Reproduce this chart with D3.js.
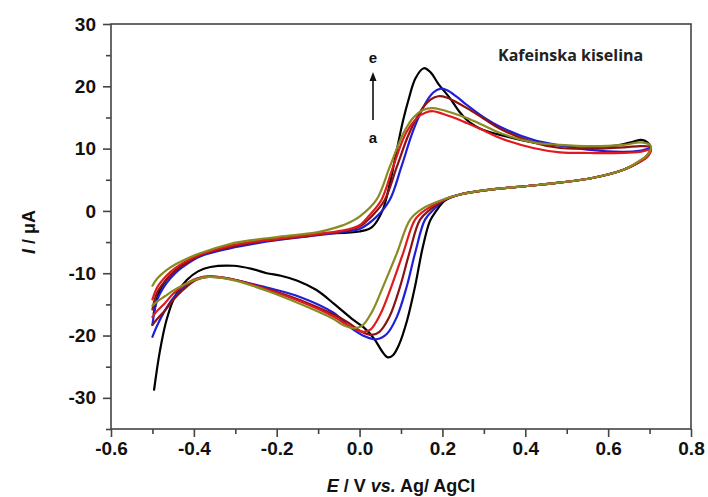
<!DOCTYPE html>
<html><head><meta charset="utf-8">
<script src="https://cdn.jsdelivr.net/npm/d3@7"></script>
<style>
html,body{margin:0;padding:0;background:#fff;}
svg{display:block;}
</style>
</head><body>
<svg id="chart" width="708" height="497"></svg>
<script>
// ---- data: [E (V), I (µA)] in scan order (anodic sweep then cathodic sweep) ----
const curveBlack = [
[-0.497,-16.5],[-0.485,-13.2],[-0.466,-11.0],[-0.445,-9.6],[-0.425,-8.6],[-0.385,-7.1],[-0.313,-5.7],[-0.25,-4.9],[-0.2,-4.4],[-0.1,-3.7],[0.0,-3.3],[0.03,-2.6],[0.055,0.0],[0.075,5.0],[0.09,9.8],[0.105,14.5],[0.118,17.8],[0.135,21.3],[0.155,22.9],[0.172,22.2],[0.19,20.4],[0.218,18.1],[0.24,16.0],[0.259,14.6],[0.28,13.6],[0.299,13.0],[0.339,12.2],[0.419,11.0],[0.484,10.5],[0.556,10.3],[0.62,10.5],[0.66,11.1],[0.68,11.4],[0.695,11.0],[0.703,10.2],
[0.695,9.0],[0.677,8.0],[0.637,6.6],[0.556,5.2],[0.435,4.2],[0.30,3.3],[0.24,2.6],[0.205,1.6],[0.185,0.0],[0.17,-1.6],[0.152,-6.0],[0.134,-12.1],[0.115,-17.5],[0.095,-21.5],[0.08,-23.2],[0.068,-23.5],[0.055,-22.6],[0.035,-20.5],[0.01,-18.7],[-0.015,-17.5],[-0.06,-15.0],[-0.104,-12.7],[-0.15,-11.2],[-0.19,-10.4],[-0.224,-10.0],[-0.26,-9.3],[-0.305,-8.8],[-0.36,-9.0],[-0.39,-9.7],[-0.417,-11.1],[-0.445,-13.6],[-0.466,-17.5],[-0.482,-22.5],[-0.496,-28.7]
];
const curveBlue = [
[-0.50,-18.3],[-0.488,-14.2],[-0.466,-11.6],[-0.445,-10.0],[-0.425,-8.9],[-0.385,-7.3],[-0.313,-6.0],[-0.25,-5.2],[-0.2,-4.7],[-0.1,-3.9],[-0.03,-3.3],[0.0,-2.9],[0.04,-1.0],[0.073,1.8],[0.101,7.1],[0.13,13.0],[0.16,17.4],[0.178,19.0],[0.194,19.6],[0.21,19.4],[0.235,18.3],[0.259,17.0],[0.30,15.0],[0.339,13.5],[0.419,11.4],[0.484,10.5],[0.556,9.8],[0.637,9.5],[0.68,9.7],[0.703,10.0],
[0.695,8.8],[0.677,7.9],[0.637,6.6],[0.556,5.2],[0.435,4.2],[0.30,3.3],[0.24,2.6],[0.205,1.8],[0.18,0.3],[0.158,-1.4],[0.135,-6.5],[0.114,-12.1],[0.09,-17.0],[0.065,-19.8],[0.04,-20.6],[0.015,-20.2],[-0.02,-18.8],[-0.064,-16.3],[-0.144,-13.8],[-0.224,-12.3],[-0.305,-11.0],[-0.36,-10.5],[-0.39,-10.8],[-0.425,-12.3],[-0.45,-14.0],[-0.47,-16.0],[-0.488,-18.3],[-0.50,-20.2]
];
const curveMaroon = [
[-0.50,-15.8],[-0.488,-13.0],[-0.466,-11.0],[-0.445,-9.6],[-0.425,-8.7],[-0.385,-7.1],[-0.313,-5.8],[-0.25,-5.0],[-0.2,-4.6],[-0.1,-3.8],[-0.03,-3.1],[0.0,-2.5],[0.03,-0.8],[0.061,1.8],[0.09,7.1],[0.12,12.5],[0.15,16.3],[0.172,17.9],[0.19,18.4],[0.21,18.2],[0.235,17.4],[0.259,16.5],[0.30,14.8],[0.339,13.2],[0.419,11.0],[0.484,10.1],[0.556,10.0],[0.637,10.2],[0.68,10.4],[0.703,10.2],
[0.695,8.9],[0.677,8.0],[0.637,6.6],[0.556,5.2],[0.435,4.2],[0.30,3.3],[0.24,2.6],[0.205,1.8],[0.17,0.2],[0.146,-1.4],[0.12,-6.8],[0.098,-12.1],[0.072,-17.0],[0.048,-19.4],[0.029,-19.9],[0.005,-19.4],[-0.03,-17.8],[-0.064,-16.6],[-0.144,-14.3],[-0.224,-12.5],[-0.305,-11.0],[-0.365,-10.6],[-0.395,-11.1],[-0.425,-12.6],[-0.45,-14.3],[-0.47,-16.0],[-0.488,-17.3],[-0.50,-18.3]
];
const curveRed = [
[-0.50,-14.2],[-0.488,-12.2],[-0.466,-10.4],[-0.445,-9.2],[-0.425,-8.3],[-0.385,-7.0],[-0.313,-5.6],[-0.25,-4.9],[-0.2,-4.5],[-0.1,-3.7],[-0.03,-3.0],[0.0,-2.3],[0.025,-0.6],[0.053,1.8],[0.081,7.1],[0.112,12.5],[0.14,15.0],[0.16,15.8],[0.178,16.0],[0.20,15.6],[0.23,14.9],[0.259,14.1],[0.30,12.9],[0.339,11.7],[0.419,10.1],[0.484,9.4],[0.556,9.3],[0.637,9.3],[0.68,9.5],[0.703,9.8],
[0.695,8.7],[0.677,7.9],[0.637,6.6],[0.556,5.2],[0.435,4.2],[0.30,3.3],[0.24,2.6],[0.205,1.8],[0.16,0.2],[0.134,-1.4],[0.105,-6.8],[0.077,-12.1],[0.05,-16.6],[0.027,-19.0],[0.009,-19.4],[-0.01,-19.0],[-0.04,-17.9],[-0.064,-16.9],[-0.144,-14.5],[-0.224,-12.6],[-0.305,-11.0],[-0.365,-10.5],[-0.395,-10.9],[-0.425,-12.0],[-0.45,-13.3],[-0.47,-14.8],[-0.488,-16.0],[-0.50,-17.0]
];
const curveOlive = [
[-0.50,-12.0],[-0.488,-10.8],[-0.466,-9.5],[-0.445,-8.6],[-0.425,-7.9],[-0.385,-6.8],[-0.313,-5.3],[-0.25,-4.6],[-0.2,-4.2],[-0.1,-3.4],[-0.064,-2.8],[-0.03,-2.0],[0.0,-0.9],[0.041,1.8],[0.073,7.1],[0.106,12.5],[0.13,15.0],[0.153,16.2],[0.175,16.5],[0.20,16.2],[0.23,15.6],[0.259,14.9],[0.30,13.7],[0.339,12.5],[0.419,11.0],[0.484,10.6],[0.556,10.4],[0.637,10.6],[0.68,11.0],[0.703,10.4],
[0.695,9.0],[0.677,8.1],[0.637,6.6],[0.556,5.2],[0.435,4.2],[0.30,3.3],[0.24,2.6],[0.205,1.9],[0.15,0.3],[0.122,-1.4],[0.09,-6.8],[0.057,-12.1],[0.03,-16.2],[0.005,-18.5],[-0.015,-18.8],[-0.04,-18.3],[-0.064,-17.3],[-0.144,-14.9],[-0.224,-12.8],[-0.305,-11.1],[-0.365,-10.6],[-0.395,-11.0],[-0.425,-11.9],[-0.45,-12.8],[-0.47,-13.7],[-0.488,-14.5],[-0.50,-15.2]
];
const seriesNames = ["black","blue","maroon","red","olive"];
const seriesColors = ["#000000","#1f1fd8","#8e1212","#e2191c","#8a8a22"];
const seriesData = [curveBlack, curveBlue, curveMaroon, curveRed, curveOlive];

const xTicks = [-0.6,-0.4,-0.2,0.0,0.2,0.4,0.6,0.8];
const xMinor = [-0.5,-0.3,-0.1,0.1,0.3,0.5,0.7];
const yTicks = [-30,-20,-10,0,10,20,30];
const yMinor = [-35,-25,-15,-5,5,15,25];
const titleText = "Kafeinska kiselina";
const arrowLabels = ["e","a"];

// ---- layout ----
const L = 111, R = 691, T = 24, B = 429;
const svg = d3.select("#chart");
const x = d3.scaleLinear().domain([-0.6,0.8]).range([L,R]);
const y = d3.scaleLinear().domain([-35,30]).range([B,T]);

const tickFont = "'Liberation Sans', Arial, sans-serif";
const axisColor = "#444";
const fmtX = d => d3.format(".1f")(d).replace("\u2212","-");
const fmtY = d => d3.format("d")(d).replace("\u2212","-");

// minor ticks
const gxm = svg.append("g").attr("transform",`translate(0,${B})`)
  .call(d3.axisBottom(x).tickValues(xMinor).tickSize(5).tickFormat("").tickSizeOuter(0));
const gym = svg.append("g").attr("transform",`translate(${L},0)`)
  .call(d3.axisLeft(y).tickValues(yMinor).tickSize(5).tickFormat("").tickSizeOuter(0));
// major ticks
const gx = svg.append("g").attr("transform",`translate(0,${B})`)
  .call(d3.axisBottom(x).tickValues(xTicks).tickSize(8).tickPadding(5).tickSizeOuter(0)
    .tickFormat(fmtX));
const gy = svg.append("g").attr("transform",`translate(${L},0)`)
  .call(d3.axisLeft(y).tickValues(yTicks).tickSize(8).tickPadding(7).tickSizeOuter(0)
    .tickFormat(fmtY));
[gxm,gym,gx,gy].forEach(g=>{
  g.selectAll("line").attr("stroke",axisColor).attr("stroke-width",1.6);
  g.select(".domain").remove();
  g.selectAll("text").attr("font-family",tickFont).attr("font-weight","bold")
    .attr("font-size",19).attr("fill","#111");
});

// frame
svg.append("rect").attr("x",L).attr("y",T).attr("width",R-L).attr("height",B-T)
  .attr("fill","none").attr("stroke",axisColor).attr("stroke-width",1.6);

// curves
const line = d3.line().x(d=>x(d[0])).y(d=>y(d[1])).curve(d3.curveCatmullRom.alpha(0.5));
svg.append("g").selectAll("path").data(seriesData).join("path")
  .attr("d",line).attr("fill","none")
  .attr("stroke",(d,i)=>seriesColors[i]).attr("stroke-width",2.2)
  .attr("stroke-linejoin","round").attr("stroke-linecap","round");

// annotation
svg.append("text").attr("x",498).attr("y",61).text(titleText)
  .attr("font-family","'Open Sans', sans-serif").attr("font-weight","bold")
  .attr("font-size",16).attr("fill","#222");

svg.append("text").attr("x",373).attr("y",63).attr("text-anchor","middle").text(arrowLabels[0])
  .attr("font-family",tickFont).attr("font-weight","bold").attr("font-size",15).attr("fill","#111");
svg.append("text").attr("x",373).attr("y",143).attr("text-anchor","middle").text(arrowLabels[1])
  .attr("font-family",tickFont).attr("font-weight","bold").attr("font-size",15).attr("fill","#111");
svg.append("line").attr("x1",373).attr("x2",373).attr("y1",120).attr("y2",80)
  .attr("stroke","#111").attr("stroke-width",1.6);
svg.append("path").attr("d","M373,72 L369.5,81 L376.5,81 Z").attr("fill","#111");

// axis titles
const xt = svg.append("text").attr("x",401).attr("y",492).attr("text-anchor","middle")
  .attr("font-family",tickFont).attr("font-weight","bold").attr("font-size",18).attr("fill","#111");
xt.append("tspan").attr("font-style","italic").text("E");
xt.append("tspan").text(" / V ");
xt.append("tspan").attr("font-style","italic").text("vs.");
xt.append("tspan").text(" Ag/ AgCl");

const yt = svg.append("text").attr("transform","translate(35,232) rotate(-90)").attr("text-anchor","middle")
  .attr("font-family",tickFont).attr("font-weight","bold").attr("font-size",18).attr("fill","#111");
yt.append("tspan").attr("font-style","italic").text("I");
yt.append("tspan").text(" / μA");
</script>
</body></html>
